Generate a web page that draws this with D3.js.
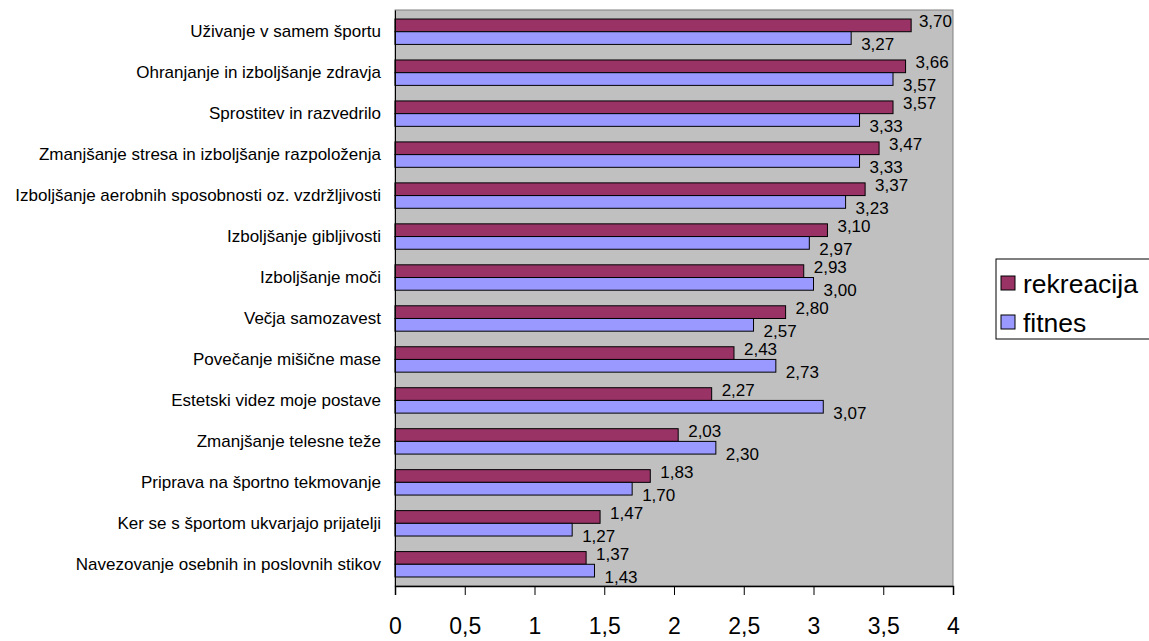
<!DOCTYPE html>
<html>
<head>
<meta charset="utf-8">
<script src="https://cdn.jsdelivr.net/npm/d3@7"></script>
<style>
  body { margin: 0; background: #fff; }
  svg { display: block; font-family: "Liberation Sans", Arial, sans-serif; }
</style>
</head>
<body>
<svg id="chart" width="1149" height="641"></svg>
<script>
// Motives for sport, ordered top to bottom
const categories = [
  "Uživanje v samem športu",
  "Ohranjanje in izboljšanje zdravja",
  "Sprostitev in razvedrilo",
  "Zmanjšanje stresa in izboljšanje razpoloženja",
  "Izboljšanje aerobnih sposobnosti oz. vzdržljivosti",
  "Izboljšanje gibljivosti",
  "Izboljšanje moči",
  "Večja samozavest",
  "Povečanje mišične mase",
  "Estetski videz moje postave",
  "Zmanjšanje telesne teže",
  "Priprava na športno tekmovanje",
  "Ker se s športom ukvarjajo prijatelji",
  "Navezovanje osebnih in poslovnih stikov"
];
const rekreacija = [3.70, 3.66, 3.57, 3.47, 3.37, 3.10, 2.93, 2.80, 2.43, 2.27, 2.03, 1.83, 1.47, 1.37];
const fitnes     = [3.27, 3.57, 3.33, 3.33, 3.23, 2.97, 3.00, 2.57, 2.73, 3.07, 2.30, 1.70, 1.27, 1.43];
const seriesNames = ["rekreacija", "fitnes"];
const seriesColors = ["#993366", "#9999FF"];
const xTicks = [0, 0.5, 1, 1.5, 2, 2.5, 3, 3.5, 4];

const svg = d3.select("#chart");
const plot = { left: 395, right: 953, top: 10, bottom: 586 };

const x = d3.scaleLinear().domain([0, 4]).range([plot.left, plot.right]);
const y = d3.scaleBand().domain(categories).range([plot.top, plot.bottom]).paddingInner(0.38).paddingOuter(0.22);
const sub = d3.scaleBand().domain(seriesNames).range([0, y.bandwidth()]);

// plot background
svg.append("rect")
  .attr("x", plot.left).attr("y", plot.top)
  .attr("width", plot.right - plot.left).attr("height", plot.bottom - plot.top)
  .attr("fill", "#C0C0C0").attr("stroke", "#808080").attr("stroke-width", 1);

const fmt = v => v.toFixed(2).replace(".", ",");
const data = [rekreacija, fitnes];

seriesNames.forEach((name, si) => {
  const vals = data[si];
  svg.append("g").selectAll("rect")
    .data(categories)
    .join("rect")
    .attr("x", x(0))
    .attr("y", (c) => y(c) + sub(name))
    .attr("width", (c, i) => x(vals[i]) - x(0))
    .attr("height", sub.bandwidth())
    .attr("fill", seriesColors[si])
    .attr("stroke", "#000").attr("stroke-width", 1);

  // value labels, kept inside the plot area
  svg.append("g").selectAll("text")
    .data(categories)
    .join("text")
    .attr("y", (c) => y(c) + sub(name) + sub.bandwidth() / 2 + (si === 0 ? -4 : 6))
    .attr("dy", "0.35em")
    .attr("font-size", 17)
    .attr("fill", "#000")
    .text((c, i) => fmt(vals[i]))
    .attr("x", function (c, i) {
      const w = this.getComputedTextLength();
      return Math.min(x(vals[i]) + 10, plot.right - w - 1);
    });
});

// category axis
const yAxis = svg.append("g")
  .attr("transform", `translate(${plot.left},0)`)
  .call(d3.axisLeft(y).tickSize(0).tickPadding(14));
yAxis.select(".domain").attr("stroke", "#000");
yAxis.selectAll("text").attr("font-size", 17).attr("fill", "#000")
  .attr("font-family", "'Liberation Sans', Arial, sans-serif");

// value axis
const xAxis = svg.append("g")
  .attr("transform", `translate(0,${plot.bottom})`)
  .call(d3.axisBottom(x).tickValues(xTicks).tickSize(9).tickPadding(23)
    .tickFormat(d => String(d).replace(".", ",")));
xAxis.select(".domain").attr("stroke", "#000").attr("stroke-width", 1.5);
xAxis.selectAll(".tick line").attr("stroke", "#000");
xAxis.selectAll("text").attr("font-size", 23).attr("fill", "#000")
  .attr("font-family", "'Liberation Sans', Arial, sans-serif");

// legend
const lg = svg.append("g").attr("transform", "translate(996,259)");
lg.append("rect").attr("x", 0).attr("y", 0).attr("width", 160).attr("height", 80)
  .attr("fill", "#fff").attr("stroke", "#000");
seriesNames.forEach((name, i) => {
  const row = lg.append("g").attr("transform", `translate(0,${24 + i * 39})`);
  row.append("rect").attr("x", 5).attr("y", -7).attr("width", 14).attr("height", 14)
    .attr("fill", seriesColors[i]).attr("stroke", "#000");
  row.append("text").attr("x", 27).attr("y", 1).attr("dy", "0.35em")
    .attr("font-size", 26.5).attr("fill", "#000").text(name);
});
</script>
</body>
</html>
